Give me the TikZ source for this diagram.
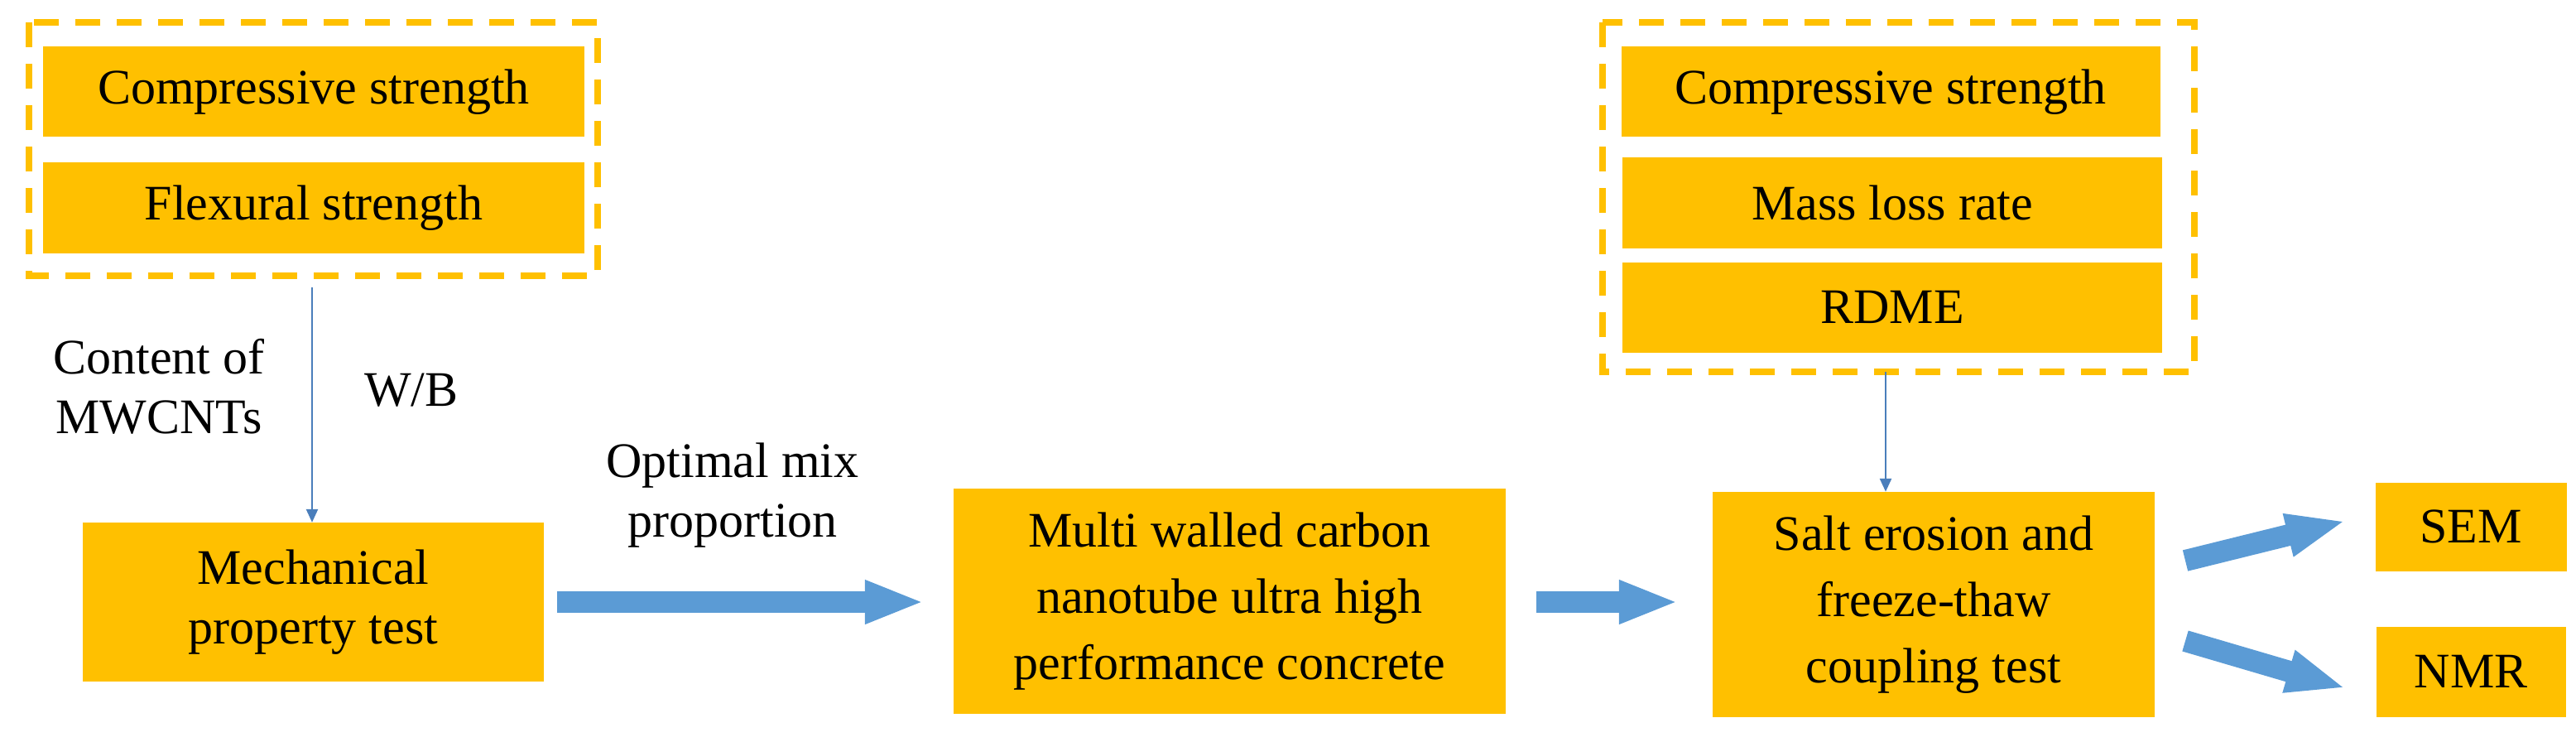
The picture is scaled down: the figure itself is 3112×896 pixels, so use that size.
\documentclass[tikz,border=0pt]{standalone}
\usepackage{fontspec}
\setmainfont{Liberation Serif}
\usetikzlibrary{arrows.meta}
\definecolor{orng}{HTML}{FFC000}
\definecolor{blu}{HTML}{5B9BD5}
\definecolor{dblu}{HTML}{4A7EBB}
\begin{document}
\begin{tikzpicture}[x=1pt,y=-1pt,
  box/.style={fill=orng,draw=none,inner sep=0pt,align=center,font=\fontsize{60}{72}\selectfont},
  grpbox/.style={draw=orng,line width=8pt,dash pattern=on 30pt off 20pt},
  thin/.style={draw=dblu,line width=2.5pt,-{Triangle[width=14pt,length=16pt]}},
  big/.style={draw=blu,line width=26pt,-{Triangle[width=48pt,length=72pt]}},
  lbl/.style={align=center,inner sep=0pt,font=\fontsize{60}{72}\selectfont}]
\useasboundingbox (0,0) rectangle (3112,896);
% left group
\draw[grpbox] (35,27) rectangle (722,333);
\node[box,minimum width=654pt,minimum height=109pt] (c1) at (379,111) {Compressive strength};
\node[box,minimum width=654pt,minimum height=109pt] (f1) at (379,251) {Flexural strength};
\coordinate (g1) at (377,347);
\node[box,minimum width=557pt,minimum height=192pt] (mech) at (378.5,727) {Mechanical\\property test};
\draw[thin] (g1) -- (mech.north -| g1);
\node[lbl] (cont) at (192,467) {Content of\\MWCNTs};
\node[lbl] (wb) at (497,471) {W/B};
% middle
\node[box,minimum width=667pt,minimum height=272pt,font=\fontsize{60}{80}\selectfont] (multi) at (1485.5,726) {Multi walled carbon\\nanotube ultra high\\performance concrete};
\node[lbl] (opt) at (885,598) {Optimal mix\\proportion};
\draw[big,shorten <=16pt,shorten >=35pt] (mech.east |- 0,727) -- (multi.west |- 0,727);
% right group
\draw[grpbox] (1936,27) rectangle (2651,449);
\node[box,minimum width=651pt,minimum height=109pt] (c2) at (2284,111) {Compressive strength};
\node[box,minimum width=652pt,minimum height=109pt] (m2) at (2286,245) {Mass loss rate};
\node[box,minimum width=652pt,minimum height=109pt] (r2) at (2286,371) {RDME};
\coordinate (g2) at (2278,449);
\node[box,minimum width=534pt,minimum height=272pt,font=\fontsize{60}{80}\selectfont] (salt) at (2336,730) {Salt erosion and\\freeze-thaw\\coupling test};
\draw[thin] (g2) -- (salt.north -| g2);
\draw[big,shorten <=37pt,shorten >=41pt] (multi.east |- 0,727) -- (salt.west |- 0,727);
\node[box,minimum width=231pt,minimum height=107pt] (sem) at (2985,636) {SEM};
\node[box,minimum width=229pt,minimum height=109pt] (nmr) at (2985,811) {NMR};
\coordinate (s1) at (2640,677);
\coordinate (s2) at (2834,629);
\coordinate (n1) at (2640,774);
\coordinate (n2) at (2834,831);
\draw[big] (s1) -- (s2);
\draw[big] (n1) -- (n2);
\end{tikzpicture}
\end{document}
